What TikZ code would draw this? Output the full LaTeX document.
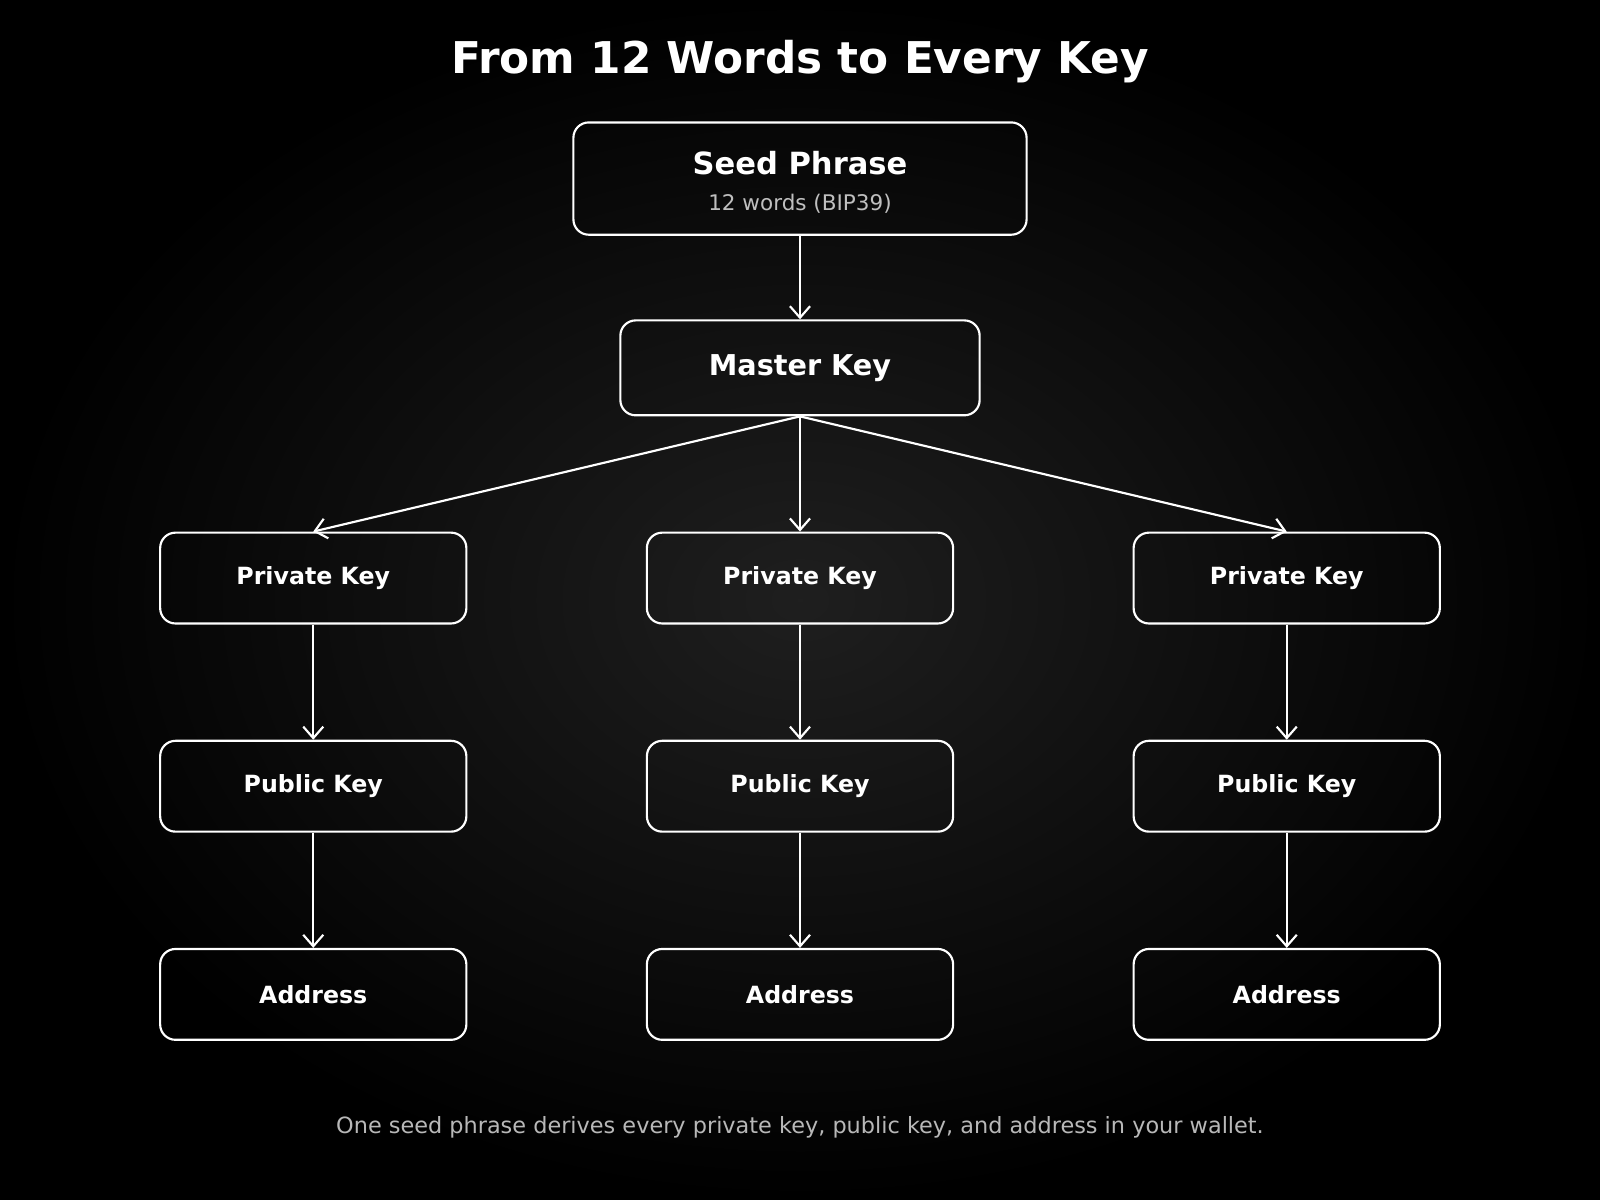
\documentclass[tikz,border=0pt]{standalone}
\usepackage{fontspec}
\setmainfont{DejaVu Sans}
\usetikzlibrary{arrows.meta}
\tikzstyle{seed} = [rectangle, rounded corners=0.375cm, minimum width=11.1cm, minimum height=2.75cm, draw=white, line width=1.5pt]
\tikzstyle{master} = [rectangle, rounded corners=0.375cm, minimum width=8.8cm, minimum height=2.325cm, draw=white, line width=1.5pt, text=white, font=\fontsize{20}{24}\selectfont\bfseries]
\tikzstyle{keybox} = [rectangle, rounded corners=0.375cm, minimum width=7.5cm, minimum height=2.225cm, draw=white, line width=1.5pt, text=white, font=\fontsize{16.5}{19}\selectfont\bfseries]
\tikzstyle{arrow} = [white, line width=1.5pt, -{Straight Barb[length=8pt, width=14pt, line width=1.5pt]}]

\begin{document}
\begin{tikzpicture}[x=0.025cm, y=-0.025cm]

    % background
    \shade[inner color=black!88!white, outer color=black] (0,0) rectangle (1568,1176);

    \node (title) [text=white, font=\fontsize{30.5}{36}\selectfont\bfseries] at (784,60) {From 12 Words to Every Key};

    \node (seed)   [seed] at (784,175) {};
    \node (seedname) [text=white, font=\fontsize{21.3}{25}\selectfont\bfseries] at (784,160) {Seed Phrase};
    \node (seedsub)  [text=black!25!white, font=\fontsize{15}{18}\selectfont] at (784,200) {12 words (BIP39)};
    \node (master) [master] at (784,360.5) {Master Key};

    \node (privA) [keybox] at (307,566.5) {Private Key};
    \node (privB) [keybox] at (784,566.5) {Private Key};
    \node (privC) [keybox] at (1261,566.5) {Private Key};
    \node (pubA)  [keybox] at (307,770.5) {Public Key};
    \node (pubB)  [keybox] at (784,770.5) {Public Key};
    \node (pubC)  [keybox] at (1261,770.5) {Public Key};
    \node (addrA) [keybox] at (307,974.5) {Address};
    \node (addrB) [keybox] at (784,974.5) {Address};
    \node (addrC) [keybox] at (1261,974.5) {Address};

    \node (note) [text=black!28!white, font=\fontsize{15.6}{18}\selectfont] at (784,1105) {One seed phrase derives every private key, public key, and address in your wallet.};

    \draw [arrow] (seed)         -- (master);
    \draw [arrow] (master.south) -- (privA.north);
    \draw [arrow] (master.south) -- (privB.north);
    \draw [arrow] (master.south) -- (privC.north);
    \draw [arrow] (privA) -- (pubA);
    \draw [arrow] (privB) -- (pubB);
    \draw [arrow] (privC) -- (pubC);
    \draw [arrow] (pubA)  -- (addrA);
    \draw [arrow] (pubB)  -- (addrB);
    \draw [arrow] (pubC)  -- (addrC);

\end{tikzpicture}
\end{document}
